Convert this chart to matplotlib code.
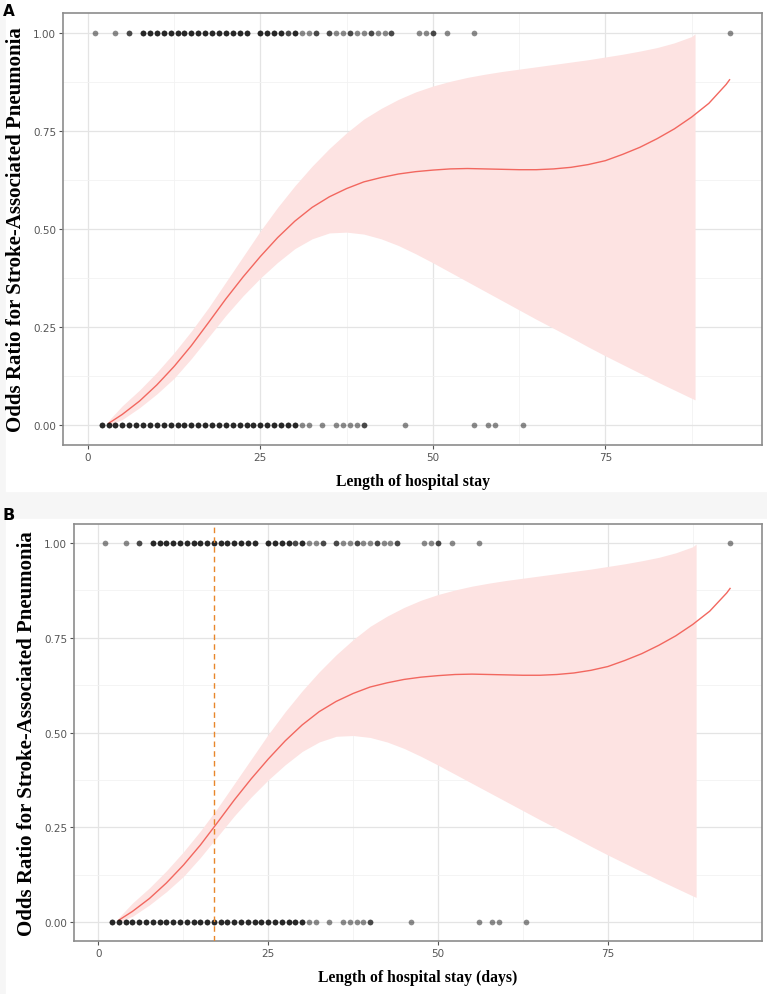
import numpy as np
import matplotlib
matplotlib.use("Agg")
import matplotlib.pyplot as plt
from matplotlib.patches import Rectangle
from matplotlib.ticker import MultipleLocator, FormatStrFormatter

# observed outcomes: hospital-stay day and how many patients sit on that day
sap_days = [1, 4, 6] + list(range(8, 24)) + [25, 26, 27, 28, 29, 30, 31, 32, 33,
            35, 36, 37, 38, 39, 40, 41, 42, 43, 44, 48, 49, 50, 52, 56, 93]
sap_counts = [1, 1, 2] + [3] * 16 + [3, 3, 3, 3, 2, 3, 1, 1, 2,
              2, 1, 1, 2, 1, 1, 2, 1, 1, 2, 1, 1, 2, 1, 1, 1]
no_sap_days = list(range(2, 31)) + [31, 32, 34, 36, 37, 38, 39, 40, 46, 56, 58, 59, 63]
no_sap_counts = [3] * 29 + [1, 1, 1, 1, 1, 1, 1, 2, 1, 1, 1, 1, 1]

# fitted curve and its confidence band
fit_days = [3, 5, 7.5, 10, 12.5, 15, 17.5, 20, 22.5, 25, 27.5, 30, 32.5, 35, 37.5,
            40, 42.5, 45, 47.5, 50, 52.5, 55, 57.5, 60, 62.5, 65, 67.5, 70, 72.5,
            75, 77.5, 80, 82.5, 85, 87.5, 90, 92.5, 93]
fit_prob = [0.005, 0.028, 0.062, 0.103, 0.15, 0.203, 0.262, 0.322, 0.378, 0.43, 0.478,
            0.52, 0.555, 0.582, 0.603, 0.62, 0.631, 0.64, 0.646, 0.65, 0.653, 0.654,
            0.653, 0.652, 0.651, 0.651, 0.653, 0.657, 0.664, 0.674, 0.69, 0.708,
            0.73, 0.755, 0.785, 0.82, 0.868, 0.88]
band_days = [3, 5, 7.5, 10, 12.5, 15, 17.5, 20, 22.5, 25, 27.5, 30, 32.5, 35, 37.5,
             40, 42.5, 45, 47.5, 50, 52.5, 55, 57.5, 60, 62.5, 65, 67.5, 70, 72.5,
             75, 77.5, 80, 82.5, 85, 87.5, 88]
band_upper = [0.012, 0.05, 0.09, 0.135, 0.185, 0.24, 0.30, 0.365, 0.43, 0.495, 0.555,
              0.61, 0.66, 0.705, 0.745, 0.78, 0.807, 0.83, 0.849, 0.864, 0.876, 0.886,
              0.894, 0.901, 0.907, 0.913, 0.919, 0.925, 0.931, 0.938, 0.945, 0.953,
              0.962, 0.974, 0.99, 0.997]
band_lower = [0.0, 0.015, 0.045, 0.08, 0.12, 0.17, 0.225, 0.28, 0.33, 0.375, 0.415,
              0.45, 0.475, 0.49, 0.492, 0.487, 0.475, 0.458, 0.437, 0.414, 0.39, 0.366,
              0.342, 0.318, 0.294, 0.27, 0.247, 0.224, 0.2, 0.177, 0.155, 0.133,
              0.111, 0.09, 0.069, 0.065]
cutoff_day = 17

Y_LABEL = "Odds Ratio for Stroke-Associated Pneumonia"
W, H = 767, 995


def draw_panel(ax, xlabel, vline=None):
    ax.set_facecolor("white")
    ax.fill_between(band_days, band_lower, band_upper, color="#fde3e2", lw=0, zorder=1)
    ax.plot(fit_days, fit_prob, color="#f2675f", lw=1.0, zorder=3)
    for days, counts, yv in ((sap_days, sap_counts, 1.0), (no_sap_days, no_sap_counts, 0.0)):
        xs = np.repeat(days, counts)
        ax.scatter(xs, np.full(len(xs), yv), s=17, color="black", alpha=0.45, lw=0, zorder=4)
    if vline is not None:
        ax.axvline(vline, color="#e8862a", lw=1.0, ls=(0, (4, 3)), zorder=5)

    ax.set_xlim(-3.6, 97.7)
    ax.set_ylim(-0.05, 1.05)
    ax.xaxis.set_major_locator(MultipleLocator(25))
    ax.xaxis.set_minor_locator(MultipleLocator(12.5))
    ax.yaxis.set_major_locator(MultipleLocator(0.25))
    ax.yaxis.set_minor_locator(MultipleLocator(0.125))
    ax.yaxis.set_major_formatter(FormatStrFormatter("%.2f"))
    ax.grid(which="major", color="#e4e4e4", lw=0.9, zorder=0)
    ax.grid(which="minor", color="#f2f2f2", lw=0.6, zorder=0)
    ax.set_axisbelow(True)
    ax.tick_params(which="major", length=3, width=0.8, color="#555555",
                   labelsize=7.5, labelcolor="#555555", pad=2)
    ax.tick_params(which="minor", length=0)
    for sp in ax.spines.values():
        sp.set_color("#8c8c8c")
        sp.set_linewidth(1.2)
    ax.set_xlabel(xlabel, family="Liberation Serif", weight="bold", fontsize=11.3, labelpad=8)
    ax.set_ylabel(Y_LABEL, family="Liberation Serif", weight="bold", fontsize=15, labelpad=5)


fig = plt.figure(figsize=(W / 100, H / 100), dpi=100, facecolor="#f6f6f6")
# white backing of each sub-figure
fig.patches.append(Rectangle((6 / W, 1 - 492 / H), 761 / W, 492 / H,
                             transform=fig.transFigure, color="white", zorder=-1))
fig.patches.append(Rectangle((6 / W, 0), 761 / W, 1 - 520 / H,
                             transform=fig.transFigure, color="white", zorder=-1))

ax_a = fig.add_axes([63 / W, 1 - 446 / H, 699 / W, 432 / H])
draw_panel(ax_a, "Length of hospital stay")
ax_b = fig.add_axes([74 / W, 1 - 942 / H, 688 / W, 417 / H])
draw_panel(ax_b, "Length of hospital stay (days)", vline=cutoff_day)

fig.text(3 / W, 1 - 4 / H, "A", fontsize=11, weight="bold", va="top", ha="left")
fig.text(3 / W, 1 - 508 / H, "B", fontsize=11.5, weight="bold", va="top", ha="left")

fig.savefig("out.png", dpi=100, facecolor=fig.get_facecolor())
